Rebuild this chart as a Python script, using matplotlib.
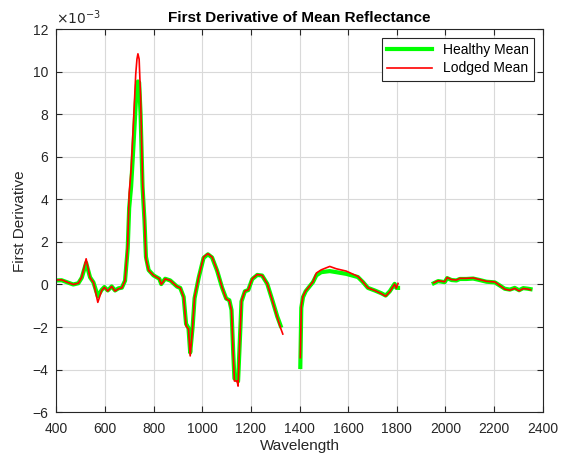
"""First derivative of mean reflectance, healthy vs lodged."""

import matplotlib
matplotlib.use("Agg")
import matplotlib.pyplot as plt
import numpy as np

nan = np.nan

# wavelength (nm); NaN marks the water-absorption gaps
wavelength = [
    400, 421, 450, 469, 490, 504, 522, 538, 552, 570, 586, 597, 611, 627, 641,
    655, 669, 682, 693, 699, 707, 717, 726, 731, 735, 740, 746, 754, 762, 768,
    779, 799, 823, 831, 847, 868, 896, 909, 923, 933, 943, 950, 960, 968, 985,
    1005, 1023, 1040, 1061, 1081, 1098, 1111, 1120, 1127, 1132, 1143, 1147, 1154,
    1161, 1175, 1189, 1205, 1226, 1246, 1267, 1288, 1308, 1322, 1331,
    nan,
    1403, 1407, 1414, 1425, 1441, 1455, 1469, 1489, 1524, 1551, 1592, 1640, 1661,
    1681, 1709, 1736, 1754, 1771, 1791, 1798, 1805,
    nan,
    1952, 1970, 1997, 2007, 2025, 2045, 2059, 2086, 2114, 2141, 2169, 2203, 2224,
    2244, 2265, 2285, 2303, 2320, 2340, 2350,
]

# first derivative values, x 1e-3
healthy = [
    0.19, 0.20, 0.08, 0.00, 0.06, 0.32, 1.02, 0.34, 0.10, -0.55, -0.25, -0.12,
    -0.28, -0.09, -0.28, -0.18, -0.15, 0.18, 1.7, 3.6, 4.6, 6.6, 8.5, 9.4, 9.55,
    9.5, 8.0, 4.6, 3.0, 1.3, 0.68, 0.43, 0.27, 0.02, 0.27, 0.19, -0.10, -0.16,
    -0.58, -1.85, -2.05, -3.20, -2.0, -0.65, 0.32, 1.25, 1.42, 1.27, 0.64, -0.14,
    -0.66, -0.74, -1.2, -3.2, -4.42, -4.46, -4.55, -2.7, -0.8, -0.32, -0.26, 0.25,
    0.45, 0.42, 0.03, -0.74, -1.50, -1.94, nan,
    nan,
    -3.88, -1.1, -0.6, -0.32, -0.09, 0.11, 0.43, 0.58, 0.63, 0.58, 0.50, 0.35,
    0.11, -0.16, -0.28, -0.41, -0.52, -0.32, 0.03, -0.16, -0.16,
    nan,
    0.06, 0.16, 0.11, 0.30, 0.21, 0.19, 0.26, 0.26, 0.28, 0.21, 0.13, 0.10, -0.05,
    -0.20, -0.24, -0.16, -0.27, -0.17, -0.20, -0.22,
]

lodged = [
    0.21, 0.22, 0.08, 0.00, 0.06, 0.35, 1.21, 0.32, 0.10, -0.84, -0.28, -0.13,
    -0.31, -0.09, -0.31, -0.20, -0.16, 0.19, 1.9, 4.3, 5.4, 7.7, 9.9, 10.6, 10.85,
    10.6, 8.8, 4.9, 3.0, 1.2, 0.66, 0.43, 0.27, 0.00, 0.27, 0.19, -0.10, -0.16,
    -0.60, -1.94, -2.10, -3.36, -2.0, -0.60, 0.35, 1.29, 1.45, 1.29, 0.66, -0.13,
    -0.68, -0.76, -1.23, -3.28, -4.54, -4.54, -4.78, -2.65, -0.76, -0.31, -0.25,
    0.27, 0.47, 0.43, 0.03, -0.76, -1.54, -2.05, -2.33,
    nan,
    -3.44, -1.0, -0.55, -0.30, -0.08, 0.13, 0.54, 0.69, 0.85, 0.74, 0.63, 0.38,
    0.12, -0.16, -0.28, -0.43, -0.55, -0.34, 0.02, -0.18, 0.05,
    nan,
    0.08, 0.18, 0.13, 0.33, 0.23, 0.21, 0.29, 0.29, 0.31, 0.23, 0.15, 0.12, -0.05,
    -0.22, -0.27, -0.18, -0.30, -0.19, -0.22, -0.25,
]

x_ticks = list(range(400, 2401, 200))
y_ticks = list(range(-6, 13, 2))

plt.rcParams["font.family"] = ["Liberation Sans", "DejaVu Sans"]
ink = "#262626"

fig = plt.figure(figsize=(5.66, 4.63), dpi=100)
ax = fig.add_axes([0.0998, 0.110, 0.859, 0.8266])

ax.plot(wavelength, healthy, color="#00ff00", lw=3.0, label="Healthy Mean")
ax.plot(wavelength, lodged, color="#ff0000", lw=1.2, label="Lodged Mean")

ax.set_xlim(400, 2400)
ax.set_ylim(-6, 12)
ax.set_xticks(x_ticks)
ax.set_yticks(y_ticks)
ax.grid(True, color="#d9d9d9", lw=0.8)
ax.set_axisbelow(True)
ax.tick_params(direction="in", colors=ink, labelsize=10, length=4,
               top=True, right=True)
ax.tick_params(axis="x", pad=7)
ax.tick_params(axis="y", pad=6)
for spine in ax.spines.values():
    spine.set_color(ink)
    spine.set_linewidth(0.8)

ax.set_xlabel("Wavelength", fontsize=11, color=ink, labelpad=2)
ax.set_ylabel("First Derivative", fontsize=11, color=ink)
ax.set_title("First Derivative of Mean Reflectance", fontsize=11,
             fontweight="bold", color="black", pad=5)
ax.text(0.0, 1.005, r"$\times10^{-3}$", transform=ax.transAxes,
        fontsize=10, color=ink, ha="left", va="bottom")

leg = ax.legend(loc="upper right", fontsize=10, fancybox=False,
                framealpha=1, edgecolor=ink, handlelength=3.2,
                borderaxespad=0.6, labelspacing=0.3)
leg.get_frame().set_linewidth(0.8)

fig.savefig("out.png", dpi=100)
